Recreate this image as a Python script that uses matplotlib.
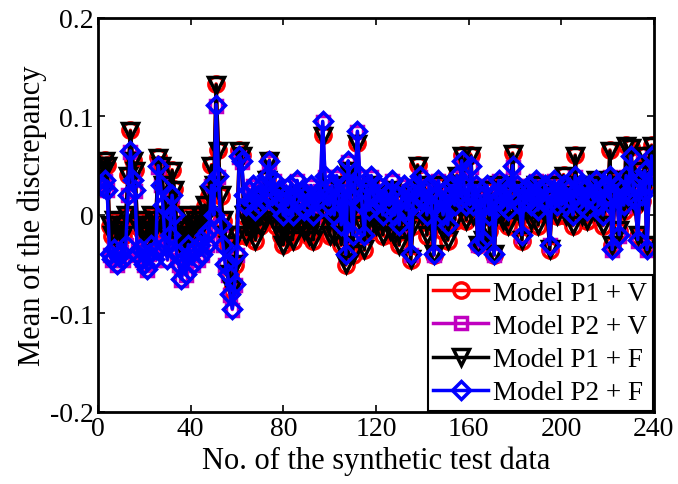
import matplotlib.pyplot as plt

plt.rcParams['font.family'] = ['Liberation Serif', 'DejaVu Serif']

# Model P2 + F (blue diamonds)
p2_f = [0.03, 0.028, 0.035, 0.025, -0.04, -0.045, -0.035, -0.05, -0.042, -0.038, -0.045, -0.03, 0.02, 0.065, 0.035, 0.025, -0.04, -0.035, -0.045, -0.05,
        -0.055, -0.04, -0.03, -0.045, -0.035, 0.05, 0.03, 0.01, -0.03, -0.045, -0.02, 0.02, 0.0, -0.04, -0.05, -0.065, -0.045, -0.06, -0.03, -0.04,
        -0.05, -0.035, -0.045, -0.03, -0.04, -0.02, -0.03, -0.015, 0.03, 0.0, 0.112, 0.04, -0.01, -0.03, -0.05, -0.06, -0.08, -0.095, -0.07, -0.04,
        0.06, 0.055, 0.02, 0.01, 0.025, 0.015, 0.03, 0.005, 0.02, 0.01, 0.03, 0.015, 0.04, 0.055, 0.02, 0.035, 0.01, 0.025, 0.015, 0.0,
        0.02, 0.01, 0.03, 0.0, 0.02, 0.035, 0.015, 0.025, 0.005, 0.02, 0.01, 0.03, 0.0, 0.02, 0.015, 0.025, 0.095, 0.04, 0.02, 0.01,
        0.03, 0.0, 0.04, 0.02, -0.01, 0.03, -0.04, 0.055, 0.02, -0.02, 0.03, 0.085, 0.04, 0.01, -0.02, 0.03, 0.005, 0.04, 0.02, 0.01,
        0.03, 0.015, 0.0, 0.025, 0.02, 0.01, 0.035, 0.0, 0.02, -0.01, 0.015, 0.03, 0.005, 0.025, -0.04, 0.01, 0.03, 0.02, 0.04, 0.015,
        0.025, 0.0, 0.03, 0.01, -0.04, 0.02, 0.035, 0.015, 0.0, 0.025, -0.01, 0.02, 0.03, 0.01, 0.04, 0.02, 0.055, 0.03, 0.01, 0.02,
        0.05, 0.01, 0.03, -0.03, 0.02, -0.025, 0.01, 0.03, 0.0, 0.02, -0.04, 0.015, 0.035, 0.02, 0.01, 0.03, 0.005, 0.025, 0.05, 0.02,
        0.03, 0.01, -0.02, 0.025, 0.015, 0.03, 0.01, 0.02, 0.035, 0.005, 0.025, 0.015, 0.03, 0.01, -0.03, 0.02, 0.035, 0.01, 0.025, 0.02,
        0.03, 0.01, 0.025, 0.015, 0.0, 0.04, 0.02, 0.03, 0.01, 0.025, 0.005, 0.03, 0.02, 0.015, 0.035, 0.01, 0.025, 0.0, 0.03, 0.02,
        0.04, -0.035, 0.02, 0.03, -0.02, 0.025, 0.01, 0.04, 0.02, 0.06, 0.03, 0.015, -0.025, 0.035, 0.02, 0.045, -0.035, 0.03, 0.06, 0.04]

# Model P2 + V (magenta squares), almost on top of P2 + F
p2_v = [0.03, 0.027, 0.034, 0.025, -0.041, -0.046, -0.035, -0.051, -0.043, -0.038, -0.046, -0.03, 0.02, 0.064, 0.035, 0.024, -0.041, -0.035, -0.046, -0.051,
        -0.056, -0.04, -0.031, -0.046, -0.035, 0.049, 0.03, 0.01, -0.031, -0.046, -0.02, 0.019, 0.0, -0.041, -0.051, -0.066, -0.046, -0.061, -0.03, -0.041,
        -0.051, -0.035, -0.046, -0.03, -0.041, -0.02, -0.031, -0.015, 0.029, 0.0, 0.111, 0.039, -0.01, -0.031, -0.051, -0.061, -0.081, -0.096, -0.071, -0.041,
        0.059, 0.054, 0.02, 0.009, 0.024, 0.014, 0.029, 0.004, 0.019, 0.009, 0.029, 0.014, 0.039, 0.054, 0.019, 0.034, 0.009, 0.024, 0.014, -0.001,
        0.019, 0.009, 0.029, -0.001, 0.019, 0.034, 0.014, 0.024, 0.004, 0.019, 0.009, 0.029, -0.001, 0.019, 0.014, 0.024, 0.094, 0.039, 0.019, 0.009,
        0.029, -0.001, 0.039, 0.019, -0.011, 0.029, -0.041, 0.054, 0.019, -0.021, 0.029, 0.084, 0.039, 0.009, -0.021, 0.029, 0.004, 0.039, 0.019, 0.009,
        0.029, 0.014, -0.001, 0.024, 0.019, 0.009, 0.034, -0.001, 0.019, -0.011, 0.014, 0.029, 0.004, 0.024, -0.041, 0.009, 0.029, 0.019, 0.039, 0.014,
        0.024, -0.001, 0.029, 0.009, -0.041, 0.019, 0.034, 0.014, -0.001, 0.024, -0.011, 0.019, 0.029, 0.009, 0.039, 0.019, 0.054, 0.029, 0.009, 0.019,
        0.049, 0.009, 0.029, -0.031, 0.019, -0.026, 0.009, 0.029, -0.001, 0.019, -0.041, 0.014, 0.034, 0.019, 0.009, 0.029, 0.004, 0.024, 0.049, 0.019,
        0.029, 0.009, -0.021, 0.024, 0.014, 0.029, 0.009, 0.019, 0.034, 0.004, 0.024, 0.014, 0.029, 0.009, -0.031, 0.019, 0.034, 0.009, 0.024, 0.019,
        0.029, 0.009, 0.024, 0.014, -0.001, 0.039, 0.019, 0.029, 0.009, 0.024, 0.004, 0.029, 0.019, 0.014, 0.034, 0.009, 0.024, -0.001, 0.029, 0.019,
        0.039, -0.036, 0.019, 0.029, -0.021, 0.024, 0.009, 0.039, 0.019, 0.059, 0.029, 0.014, -0.026, 0.034, 0.019, 0.044, -0.036, 0.029, 0.059, 0.039]

# Model P1 + F (black triangles)
p1_f = [0.05, 0.045, 0.055, 0.05, -0.01, -0.02, -0.005, -0.025, -0.015, -0.01, -0.02, 0.0, 0.04, 0.085, 0.055, 0.045, -0.01, -0.005, -0.015, -0.02,
        -0.025, -0.01, 0.0, -0.015, -0.005, 0.058, 0.05, 0.03, 0.0, -0.02, 0.01, 0.045, 0.025, -0.01, -0.02, -0.03, -0.015, -0.025, 0.0, -0.01,
        -0.02, -0.005, -0.015, 0.0, -0.01, 0.01, 0.0, 0.02, 0.05, 0.03, 0.132, 0.065, 0.02, -0.005, -0.02, -0.03, -0.06, -0.075, -0.05, -0.02,
        0.065, 0.06, 0.0, -0.02, 0.005, -0.015, 0.01, -0.025, 0.0, -0.01, 0.02, -0.005, 0.035, 0.055, 0.0, 0.02, -0.01, 0.005, -0.02, -0.03,
        0.0, -0.02, 0.015, -0.025, 0.0, 0.02, -0.01, 0.01, -0.015, 0.0, -0.02, 0.015, -0.025, 0.0, -0.01, 0.01, 0.08, 0.02, 0.0, -0.02,
        0.015, -0.02, 0.03, 0.0, -0.03, 0.015, -0.05, 0.045, 0.0, -0.04, 0.015, 0.072, 0.025, -0.01, -0.035, 0.015, -0.015, 0.03, 0.0, -0.01,
        0.02, -0.005, -0.02, 0.01, 0.0, -0.015, 0.025, -0.02, 0.005, -0.03, 0.0, 0.02, -0.015, 0.015, -0.045, -0.01, 0.02, 0.05, 0.03, 0.0,
        0.015, -0.02, 0.025, -0.01, -0.04, 0.01, 0.03, 0.0, -0.015, 0.015, -0.025, 0.01, 0.025, -0.005, 0.04, 0.01, 0.06, 0.025, -0.005, 0.01,
        0.06, 0.0, 0.025, -0.03, 0.01, -0.025, 0.0, 0.025, -0.015, 0.01, -0.04, 0.005, 0.03, 0.01, -0.005, 0.025, -0.01, 0.02, 0.062, 0.01,
        0.025, 0.0, -0.025, 0.02, 0.005, 0.025, -0.005, 0.015, 0.03, -0.01, 0.02, 0.005, 0.025, 0.0, -0.035, 0.015, 0.03, 0.0, 0.02, 0.01,
        0.04, 0.0, 0.025, 0.01, -0.01, 0.06, 0.015, 0.03, 0.0, 0.02, -0.005, 0.03, 0.01, 0.005, 0.035, 0.0, 0.02, -0.01, 0.03, 0.015,
        0.065, -0.03, 0.015, 0.035, -0.015, 0.03, 0.005, 0.07, 0.015, 0.068, 0.035, 0.01, -0.02, 0.045, 0.015, 0.06, -0.03, 0.035, 0.07, 0.06]

# Model P1 + V (red circles), almost on top of P1 + F
p1_v = [0.051, 0.046, 0.056, 0.051, -0.011, -0.021, -0.006, -0.026, -0.016, -0.011, -0.021, -0.001, 0.041, 0.086, 0.056, 0.046, -0.011, -0.006, -0.016, -0.021,
        -0.026, -0.011, -0.001, -0.016, -0.006, 0.059, 0.051, 0.031, -0.001, -0.021, 0.009, 0.046, 0.026, -0.011, -0.021, -0.031, -0.016, -0.026, -0.001, -0.011,
        -0.021, -0.006, -0.016, -0.001, -0.011, 0.009, -0.001, 0.019, 0.051, 0.031, 0.133, 0.066, 0.019, -0.006, -0.021, -0.031, -0.061, -0.076, -0.051, -0.021,
        0.066, 0.061, -0.001, -0.021, 0.004, -0.016, 0.009, -0.026, -0.001, -0.011, 0.019, -0.006, 0.036, 0.056, -0.001, 0.019, -0.011, 0.004, -0.021, -0.031,
        -0.001, -0.021, 0.014, -0.026, -0.001, 0.019, -0.011, 0.009, -0.016, -0.001, -0.021, 0.014, -0.026, -0.001, -0.011, 0.009, 0.081, 0.019, -0.001, -0.021,
        0.014, -0.021, 0.029, -0.001, -0.031, 0.014, -0.051, 0.046, -0.001, -0.041, 0.014, 0.073, 0.024, -0.011, -0.036, 0.014, -0.016, 0.029, -0.001, -0.011,
        0.019, -0.006, -0.021, 0.009, -0.001, -0.016, 0.024, -0.021, 0.004, -0.031, -0.001, 0.019, -0.016, 0.014, -0.046, -0.011, 0.019, 0.051, 0.029, -0.001,
        0.014, -0.021, 0.024, -0.011, -0.041, 0.009, 0.029, -0.001, -0.016, 0.014, -0.026, 0.009, 0.024, -0.006, 0.041, 0.009, 0.061, 0.024, -0.006, 0.009,
        0.061, -0.001, 0.024, -0.031, 0.009, -0.026, -0.001, 0.024, -0.016, 0.009, -0.041, 0.004, 0.029, 0.009, -0.006, 0.024, -0.011, 0.019, 0.063, 0.009,
        0.024, -0.001, -0.026, 0.019, 0.004, 0.024, -0.006, 0.014, 0.029, -0.011, 0.019, 0.004, 0.024, -0.001, -0.036, 0.014, 0.029, -0.001, 0.019, 0.009,
        0.041, -0.001, 0.024, 0.009, -0.011, 0.061, 0.014, 0.029, -0.001, 0.019, -0.006, 0.029, 0.009, 0.004, 0.034, -0.001, 0.019, -0.011, 0.029, 0.014,
        0.066, -0.031, 0.014, 0.034, -0.016, 0.029, 0.004, 0.071, 0.014, 0.069, 0.034, 0.009, -0.021, 0.044, 0.014, 0.061, -0.031, 0.034, 0.071, 0.061]

idx = list(range(1, len(p2_f) + 1))

fig = plt.figure(figsize=(6.78, 4.85), dpi=100)
ax = fig.add_axes([0.1445, 0.1485, 0.82, 0.8125])

ax.plot(idx, p1_v, color='red', marker='o', markersize=11, mfc='none', mew=2.5, lw=2.5, label='Model P1 + V')
ax.plot(idx, p2_v, color='#c000c0', marker='s', markersize=8, mfc='none', mew=2.5, lw=2.5, label='Model P2 + V')
ax.plot(idx, p1_f, color='black', marker='v', markersize=12, mfc='none', mew=2.5, lw=2.5, label='Model P1 + F')
ax.plot(idx, p2_f, color='blue', marker='D', markersize=9, mfc='none', mew=2.5, lw=2.5, label='Model P2 + F')

ax.set_xlim(0, 240)
ax.set_ylim(-0.2, 0.2)
ax.set_xticks([0, 40, 80, 120, 160, 200, 240])
ax.set_yticks([-0.2, -0.1, 0, 0.1, 0.2])
ax.set_yticklabels(['-0.2', '-0.1', '0', '0.1', '0.2'])
ax.tick_params(direction='in', top=True, right=True, labelsize=20, width=1.2, length=5, pad=3)
for s in ax.spines.values():
    s.set_linewidth(2)

ax.set_xlabel('No. of the synthetic test data', fontsize=22, labelpad=3)
ax.set_ylabel('Mean of the discrepancy', fontsize=22, labelpad=2)

leg = ax.legend(loc='lower right', fontsize=19.5, fancybox=False, edgecolor='black',
                framealpha=1, borderaxespad=0.05, handlelength=2.0, labelspacing=0.3,
                borderpad=0.2, handletextpad=0.2)
leg.get_frame().set_linewidth(1.5)

fig.savefig('out.png', dpi=100)
